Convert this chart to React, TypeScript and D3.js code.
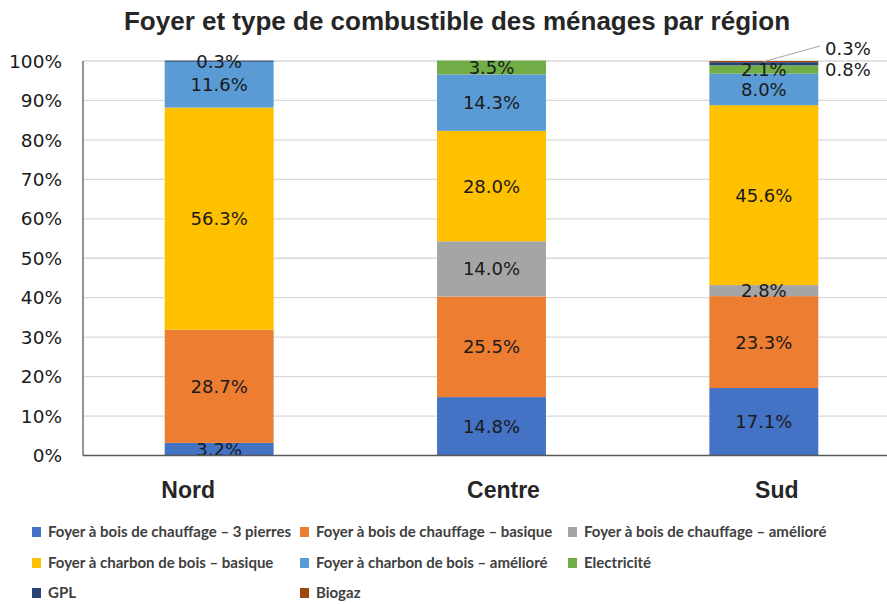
import React from 'react';
import * as d3 from 'd3';

// regions on the x axis
const regions = ['Nord', 'Centre', 'Sud'];

// fuel types, bottom to top of each bar
const fuels = [
    'Foyer à bois de chauffage – 3 pierres',
    'Foyer à bois de chauffage – basique',
    'Foyer à bois de chauffage – amélioré',
    'Foyer à charbon de bois – basique',
    'Foyer à charbon de bois – amélioré',
    'Electricité',
    'GPL',
    'Biogaz',
];

// shares (%) per region, same order as fuels
const nord = [3.2, 28.7, 0, 56.3, 11.6, 0, 0.3, 0];
const centre = [14.8, 25.5, 14.0, 28.0, 14.3, 3.5, 0, 0];
const sud = [17.1, 23.3, 2.8, 45.6, 8.0, 2.1, 0.8, 0.3];

const yTicks = [0, 10, 20, 30, 40, 50, 60, 70, 80, 90, 100];

const colors = ['#4472C4', '#ED7D31', '#A5A5A5', '#FFC000', '#5B9BD5', '#70AD47', '#264478', '#9E480E'];

const W = 887;
const H = 604;
const margin = { top: 61, left: 83, bottom: 148 };

export default function App() {
    const values: Record<string, number[]> = { Nord: nord, Centre: centre, Sud: sud };
    const table = regions.map((r) => {
        const row: any = { region: r };
        fuels.forEach((f, i) => (row[f] = values[r][i]));
        return row;
    });
    const series = d3.stack().keys(fuels)(table);

    const x = d3.scaleBand().domain(regions).range([margin.left, 900]).paddingInner(0.6).paddingOuter(0.3);
    const y = d3.scaleLinear().domain([0, 100]).range([H - margin.bottom - 0.5, margin.top]);

    // category labels sit a little off the bar centre in the original
    const labelDx: Record<string, number> = { Nord: -31, Centre: 12, Sud: 13 };
    // small slices whose labels are drawn beside the bar
    const outside: Record<string, number> = { 'Sud|GPL': 70, 'Sud|Biogaz': 49 };

    const legendCols = [32, 300, 568];
    const legendRows = [532, 563, 593];

    return (
        <svg width={W} height={H} style={{ position: 'absolute', left: 0, top: 0, background: '#fff' }}>
            <text x={457} y={30} textAnchor="middle" fontFamily="Liberation Sans, Arial" fontWeight="bold" fontSize={26} fill="#262626">
                Foyer et type de combustible des ménages par région
            </text>

            {yTicks.map((t) => (
                <g key={t}>
                    {t > 0 && <line x1={margin.left} x2={W} y1={y(t)} y2={y(t)} stroke="#d9d9d9" strokeWidth={1.3} />}
                    <text x={62} y={y(t)} dy="0.36em" textAnchor="end" fontFamily="DejaVu Sans" fontSize={18.5} fill="#1a1a1a">
                        {t}%
                    </text>
                </g>
            ))}

            {series.map((s, i) => (
                <g key={s.key} fill={colors[i]}>
                    {s.map((d) =>
                        d[1] - d[0] > 0 ? (
                            <rect key={d.data.region} x={x(d.data.region)} width={x.bandwidth()} y={y(d[1])} height={y(d[0]) - y(d[1])} />
                        ) : null,
                    )}
                </g>
            ))}

            {series.map((s) =>
                s.map((d) => {
                    const v = d[1] - d[0];
                    if (v <= 0) return null;
                    const r = d.data.region;
                    const key = r + '|' + s.key;
                    const cx = (x(r) as number) + x.bandwidth() / 2;
                    const cy = y((d[0] + d[1]) / 2);
                    const label = v.toFixed(1) + '%';
                    if (outside[key] !== undefined) {
                        const ty = outside[key];
                        return (
                            <g key={key}>
                                {s.key === 'Biogaz' && <line x1={cx} y1={cy} x2={820} y2={46} stroke="#a6a6a6" strokeWidth={1} />}
                                <text x={825} y={ty} dy="0.36em" fontFamily="DejaVu Sans" fontSize={18} fill="#1a1a1a">
                                    {label}
                                </text>
                            </g>
                        );
                    }
                    return (
                        <text key={key} x={cx} y={cy} dy="0.36em" textAnchor="middle" fontFamily="DejaVu Sans" fontSize={18} fill="#1a1a1a">
                            {label}
                        </text>
                    );
                }),
            )}

            <line x1={margin.left} x2={margin.left} y1={margin.top} y2={y(0)} stroke="#595959" strokeWidth={1.3} />
            <line x1={margin.left} x2={W} y1={y(0)} y2={y(0)} stroke="#595959" strokeWidth={1.3} />

            {regions.map((r) => (
                <text
                    key={r}
                    x={(x(r) as number) + x.bandwidth() / 2 + labelDx[r]}
                    y={498}
                    textAnchor="middle"
                    fontFamily="Liberation Sans, Arial"
                    fontWeight="bold"
                    fontSize={23}
                    fill="#262626"
                >
                    {r}
                </text>
            ))}

            {fuels.map((f, i) => {
                const lx = legendCols[i % 3];
                const ly = legendRows[Math.floor(i / 3)];
                return (
                    <g key={f} transform={`translate(${lx},${ly})`}>
                        <rect x={0} y={-5} width={9} height={10} fill={colors[i]} />
                        <text x={16} y={0} dy="0.35em" fontFamily="Lato" fontWeight="bold" fontSize={15} fill="#404040">
                            {f}
                        </text>
                    </g>
                );
            })}
        </svg>
    );
}
